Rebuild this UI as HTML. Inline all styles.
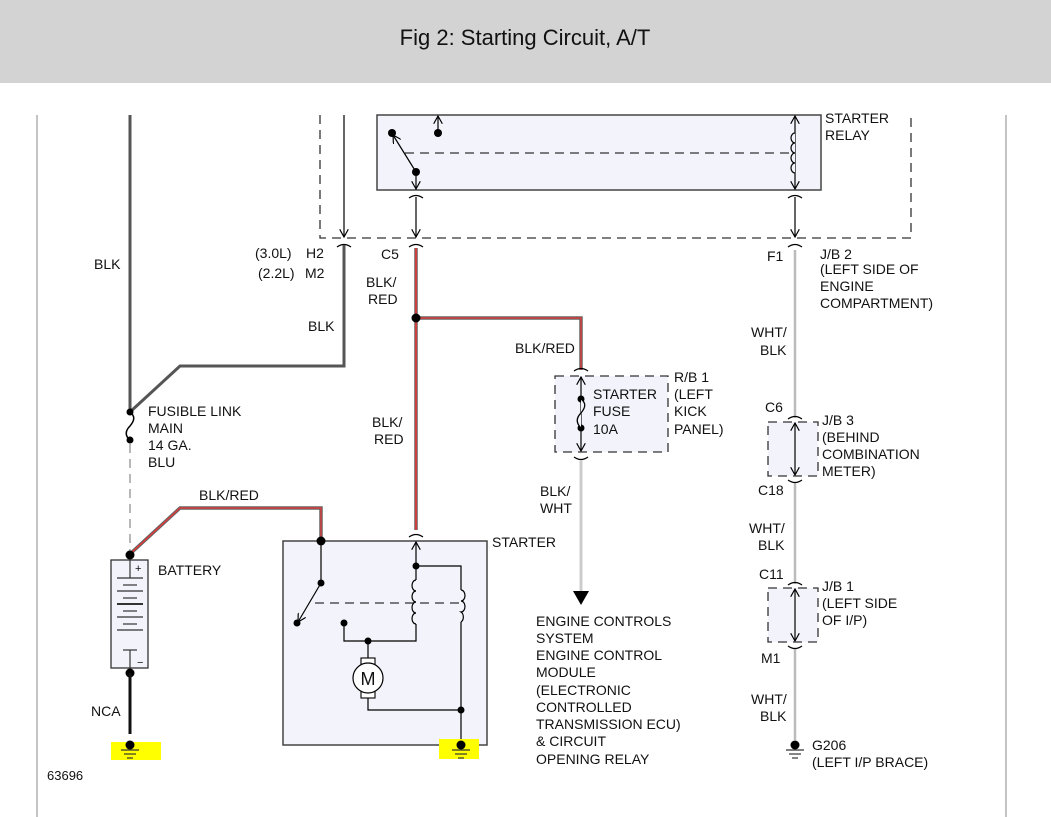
<!DOCTYPE html>
<html><head><style>
html,body{margin:0;padding:0;background:#fff;width:1051px;height:817px;overflow:hidden}
svg{display:block;font-family:"Liberation Sans",sans-serif}
text{font-size:14px;fill:#111}
</style></head><body>
<svg width="1051" height="817" viewBox="0 0 1051 817" xmlns="http://www.w3.org/2000/svg">
<defs>
<marker id="ar" viewBox="0 0 10 10" refX="9" refY="5" markerWidth="9" markerHeight="9" orient="auto-start-reverse" markerUnits="userSpaceOnUse"><path d="M0,0 L9,5 L0,10" fill="none" stroke="#000" stroke-width="1.3"/></marker>
</defs>
<rect x="0" y="0" width="1051" height="83" fill="#d3d3d3"/>
<text x="525" y="45" text-anchor="middle" style="font-size:22px" fill="#222">Fig 2: Starting Circuit, A/T</text>
<line x1="37" y1="115" x2="37" y2="817" stroke="#888" stroke-width="1"/>
<line x1="1006" y1="115" x2="1006" y2="817" stroke="#888" stroke-width="1"/>

<!-- relay box -->
<rect x="377" y="115" width="444" height="75" fill="#f3f3fc" stroke="#444" stroke-width="1.5"/>
<path d="M320,115 V238 H911 V115" fill="none" stroke="#333" stroke-width="1.3" stroke-dasharray="9,6"/>
<line x1="405" y1="153" x2="790" y2="153" stroke="#333" stroke-width="1.3" stroke-dasharray="9,6"/>
<circle cx="392" cy="133" r="4" fill="#000"/><circle cx="416" cy="172" r="4" fill="#000"/><circle cx="438" cy="133" r="4" fill="#000"/>
<line x1="416" y1="172" x2="393" y2="135" stroke="#000" stroke-width="1.2" marker-end="url(#ar)"/>
<line x1="416" y1="172" x2="416" y2="189" stroke="#000" stroke-width="1.2" marker-end="url(#ar)"/>
<line x1="438" y1="133" x2="438" y2="116" stroke="#000" stroke-width="1.2" marker-end="url(#ar)"/>
<line x1="795" y1="150" x2="795" y2="116" stroke="#000" stroke-width="1.2" marker-end="url(#ar)"/>
<line x1="795" y1="150" x2="795" y2="189" stroke="#000" stroke-width="1.2" marker-end="url(#ar)"/>
<path d="M795,133 a4,5 0 0 0 0,10 a4,5 0 0 0 0,10 a4,5 0 0 0 0,10 a4,5 0 0 0 0,10" fill="#f3f3fc" stroke="#000" stroke-width="1.2"/>
<text x="825" y="123">STARTER</text><text x="825" y="140">RELAY</text>
<!-- connectors below relay -->
<g fill="none" stroke="#000" stroke-width="1.2">
<path d="M409,198 q7,-5 14,0 M788,198 q7,-5 14,0"/>
<line x1="416" y1="197" x2="416" y2="237" marker-end="url(#ar)"/>
<line x1="795" y1="197" x2="795" y2="237" marker-end="url(#ar)"/>
<line x1="344" y1="115" x2="344" y2="237" marker-end="url(#ar)"/>
<path d="M337,247 q7,-5 14,0 M409,247 q7,-5 14,0 M788,247 q7,-5 14,0"/>
</g>
<text x="255" y="258">(3.0L)</text><text x="306" y="258">H2</text>
<text x="258" y="278">(2.2L)</text><text x="305" y="278">M2</text>
<text x="381" y="259">C5</text>
<text x="767" y="261">F1</text>
<text x="820" y="259">J/B 2</text><text x="820" y="274">(LEFT SIDE OF</text><text x="820" y="291">ENGINE</text><text x="820" y="308">COMPARTMENT)</text>

<!-- BLK wires -->
<line x1="130" y1="115" x2="130" y2="412" stroke="#555" stroke-width="3"/>
<path d="M344,245 V366 H180 L130,412" fill="none" stroke="#555" stroke-width="3"/>
<text x="94" y="269">BLK</text>
<text x="308" y="331">BLK</text>
<circle cx="130" cy="412" r="3.5" fill="#000"/><circle cx="130" cy="440" r="3.5" fill="#000"/>
<path d="M130,412 c5,4 5,8 0,14 c-5,5 -5,10 0,14" fill="none" stroke="#000" stroke-width="1.5"/>
<text x="148" y="416">FUSIBLE LINK</text><text x="148" y="433">MAIN</text><text x="148" y="450">14 GA.</text><text x="148" y="467">BLU</text>
<line x1="130" y1="444" x2="130" y2="552" stroke="#888" stroke-width="1.2" stroke-dasharray="9,6"/>

<!-- battery -->
<rect x="111" y="560" width="37" height="108" fill="#f3f3fc" stroke="#333" stroke-width="1.3"/>
<g stroke="#333" stroke-width="1.2">
<line x1="130" y1="560" x2="130" y2="578"/><line x1="130" y1="650" x2="130" y2="668"/>
<line x1="117" y1="578" x2="143" y2="578"/><line x1="123" y1="585" x2="137" y2="585"/>
<line x1="117" y1="591" x2="143" y2="591"/><line x1="123" y1="598" x2="137" y2="598"/>
<line x1="117" y1="604" x2="143" y2="604" stroke-width="2"/><line x1="123" y1="611" x2="137" y2="611"/>
<line x1="117" y1="617" x2="143" y2="617"/><line x1="123" y1="624" x2="137" y2="624"/>
<line x1="117" y1="630" x2="143" y2="630"/><line x1="123" y1="650" x2="137" y2="650"/>
</g>
<text x="135" y="572" style="font-size:11px">+</text><text x="137" y="666" style="font-size:11px">−</text>
<text x="158" y="575">BATTERY</text>
<path d="M130,554 L180,508 H321 V541" fill="none" stroke="#666" stroke-width="3.5"/>
<path d="M130,554 L180,508 H321 V541" fill="none" stroke="#e33" stroke-width="1.2"/>
<text x="199" y="500">BLK/RED</text>
<circle cx="130" cy="555" r="4.5" fill="#000"/><circle cx="130" cy="673" r="4.5" fill="#000"/>
<line x1="130" y1="673" x2="130" y2="734" stroke="#111" stroke-width="3"/>
<text x="91" y="716">NCA</text>
<rect x="111" y="742" width="50" height="18" fill="#ffff00"/>
<circle cx="130" cy="745" r="4.5" fill="#000"/>
<g stroke="#333" stroke-width="1.2"><line x1="121" y1="750" x2="139" y2="750"/><line x1="124" y1="754" x2="136" y2="754"/><line x1="127" y1="758" x2="133" y2="758"/></g>
<text x="47" y="780" style="font-size:13px">63696</text>

<!-- C5 red wire -->
<line x1="416" y1="248" x2="416" y2="530" stroke="#666" stroke-width="3.5"/>
<line x1="416" y1="248" x2="416" y2="530" stroke="#e33" stroke-width="1.5"/>
<path d="M416,318 H581 V370" fill="none" stroke="#666" stroke-width="3.5"/>
<path d="M416,318 H581 V370" fill="none" stroke="#e33" stroke-width="1.2"/>
<circle cx="416" cy="318" r="4.5" fill="#000"/>
<text x="366" y="287">BLK/</text><text x="368" y="304">RED</text>
<text x="515" y="353">BLK/RED</text>
<text x="372" y="427">BLK/</text><text x="374" y="444">RED</text>

<!-- fuse box -->
<rect x="555" y="376" width="113" height="76" fill="#f3f3fc" stroke="#333" stroke-width="1.3" stroke-dasharray="9,6"/>
<path d="M574,371 q7,-5 14,0 M574,457 q7,5 14,0" fill="none" stroke="#000" stroke-width="1.2"/>
<line x1="581" y1="414" x2="581" y2="377" stroke="#000" stroke-width="1.2" marker-end="url(#ar)"/>
<line x1="581" y1="414" x2="581" y2="451" stroke="#000" stroke-width="1.2" marker-end="url(#ar)"/>
<circle cx="581" cy="399" r="3.5" fill="#000"/><circle cx="581" cy="428" r="3.5" fill="#000"/>
<path d="M581,399 c5,4 5,8 0,14 c-5,5 -5,10 0,15" fill="#f3f3fc" stroke="#000" stroke-width="1.3"/>
<text x="593" y="399">STARTER</text><text x="593" y="416">FUSE</text><text x="593" y="434">10A</text>
<text x="674" y="382">R/B 1</text><text x="674" y="399">(LEFT</text><text x="674" y="416">KICK</text><text x="674" y="434">PANEL)</text>
<line x1="581" y1="460" x2="581" y2="592" stroke="#ccc" stroke-width="3"/>
<path d="M573,591 H589 L581,605 Z" fill="#000"/>
<text x="540" y="496">BLK/</text><text x="540" y="513">WHT</text>
<g><text x="536" y="626">ENGINE CONTROLS</text><text x="536" y="643">SYSTEM</text><text x="536" y="660">ENGINE CONTROL</text><text x="536" y="677">MODULE</text><text x="536" y="695">(ELECTRONIC</text><text x="536" y="712">CONTROLLED</text><text x="536" y="729">TRANSMISSION ECU)</text><text x="536" y="746">&amp; CIRCUIT</text><text x="536" y="764">OPENING RELAY</text></g>

<!-- right column -->
<g stroke="#bbb" stroke-width="2.5"><line x1="795" y1="250" x2="795" y2="418"/><line x1="795" y1="482" x2="795" y2="584"/><line x1="795" y1="648" x2="795" y2="740"/></g>
<text x="751" y="337">WHT/</text><text x="760" y="355">BLK</text>
<text x="765" y="412">C6</text>
<rect x="768" y="422" width="50" height="54" fill="#f3f3fc" stroke="#333" stroke-width="1.3" stroke-dasharray="9,6"/>
<path d="M788,419 q7,-5 14,0 M788,480 q7,5 14,0 M788,585 q7,-5 14,0 M788,646 q7,5 14,0" fill="none" stroke="#000" stroke-width="1.2"/>
<line x1="795" y1="449" x2="795" y2="423" stroke="#000" stroke-width="1.2" marker-end="url(#ar)"/>
<line x1="795" y1="449" x2="795" y2="475" stroke="#000" stroke-width="1.2" marker-end="url(#ar)"/>
<text x="822" y="425">J/B 3</text><text x="822" y="442">(BEHIND</text><text x="822" y="459">COMBINATION</text><text x="822" y="476">METER)</text>
<text x="758" y="495">C18</text>
<text x="749" y="533">WHT/</text><text x="758" y="550">BLK</text>
<text x="759" y="579">C11</text>
<rect x="768" y="588" width="50" height="54" fill="#f3f3fc" stroke="#333" stroke-width="1.3" stroke-dasharray="9,6"/>
<line x1="795" y1="615" x2="795" y2="589" stroke="#000" stroke-width="1.2" marker-end="url(#ar)"/>
<line x1="795" y1="615" x2="795" y2="641" stroke="#000" stroke-width="1.2" marker-end="url(#ar)"/>
<text x="822" y="591">J/B 1</text><text x="822" y="608">(LEFT SIDE</text><text x="822" y="625">OF I/P)</text>
<text x="761" y="663">M1</text>
<text x="751" y="704">WHT/</text><text x="760" y="721">BLK</text>
<circle cx="795" cy="745" r="4.5" fill="#000"/>
<g stroke="#333" stroke-width="1.2"><line x1="786" y1="750" x2="804" y2="750"/><line x1="789" y1="754" x2="801" y2="754"/><line x1="792" y1="758" x2="798" y2="758"/></g>
<text x="812" y="750">G206</text><text x="812" y="767">(LEFT I/P BRACE)</text>

<!-- starter -->
<rect x="283" y="541" width="204" height="204" fill="#f3f3fc" stroke="#444" stroke-width="1.5"/>
<text x="492" y="547">STARTER</text>
<path d="M409,537 q7,-5 14,0" fill="none" stroke="#000" stroke-width="1.2"/>
<line x1="416" y1="566" x2="416" y2="542" stroke="#000" stroke-width="1.2" marker-end="url(#ar)"/>
<g fill="none" stroke="#000" stroke-width="1.2">
<line x1="321" y1="541" x2="321" y2="583"/>
<line x1="321" y1="583" x2="298" y2="622" marker-end="url(#ar)"/>
<path d="M416,566 H461 V590 M461,622 V745"/>
<path d="M416,566 V580 M416,624 V641 H344 V623"/>
<path d="M368,641 V663 M368,693 V710 H461"/>
</g>
<line x1="315" y1="603" x2="462" y2="603" stroke="#333" stroke-width="1.2" stroke-dasharray="9,6"/>
<path d="M416,580 a4,5.5 0 0 0 0,11 a4,5.5 0 0 0 0,11 a4,5.5 0 0 0 0,11 a4,5.5 0 0 0 0,11" fill="none" stroke="#000" stroke-width="1.2"/>
<path d="M461,590 a4,5.5 0 0 1 0,11 a4,5.5 0 0 1 0,11 a4,5.5 0 0 1 0,10" fill="none" stroke="#000" stroke-width="1.2"/>
<rect x="361" y="658" width="14" height="40" fill="#fff" stroke="#000" stroke-width="1.1"/>
<circle cx="368" cy="678" r="15" fill="#fff" stroke="#000" stroke-width="1.2"/>
<text x="368" y="685" text-anchor="middle" style="font-size:18px">M</text>
<circle cx="321" cy="541" r="4.5" fill="#000"/><circle cx="321" cy="583" r="3.5" fill="#000"/><circle cx="297" cy="623" r="3.5" fill="#000"/>
<circle cx="416" cy="566" r="3.5" fill="#000"/><circle cx="344" cy="623" r="3.5" fill="#000"/><circle cx="368" cy="641" r="3.5" fill="#000"/><circle cx="461" cy="710" r="3.5" fill="#000"/>
<rect x="439" y="739" width="40" height="20" fill="#ffff00"/>
<circle cx="461" cy="745" r="4.5" fill="#000"/>
<g stroke="#333" stroke-width="1.2"><line x1="452" y1="750" x2="470" y2="750"/><line x1="455" y1="754" x2="467" y2="754"/><line x1="458" y1="758" x2="464" y2="758"/></g>
</svg>
</body></html>
